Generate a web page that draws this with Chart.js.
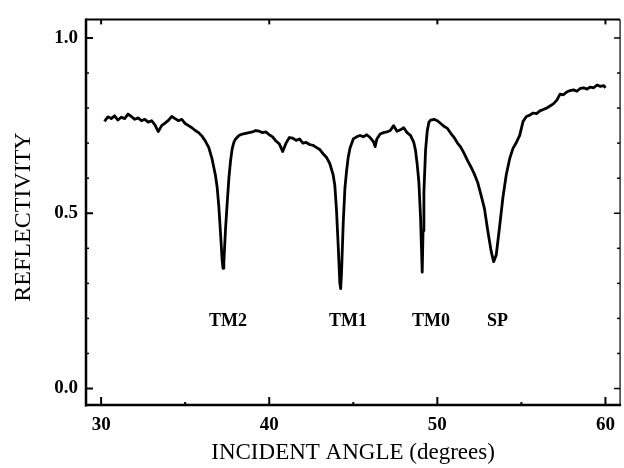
<!DOCTYPE html>
<html>
<head>
<meta charset="utf-8">
<script src="https://cdn.jsdelivr.net/npm/chart.js@4"></script>
<style>
  html, body { margin: 0; padding: 0; background: #fff; }
  canvas { display: block; }
</style>
</head>
<body>
<canvas id="reflectivity" width="624" height="468"></canvas>
<script>
// values
const angles = [
  30.2, 30.4, 30.6, 30.8, 31.0, 31.2, 31.4, 31.6, 31.8, 32.0,
  32.2, 32.4, 32.6, 32.8, 33.0, 33.2, 33.4, 33.6, 33.8, 34.0,
  34.2, 34.4, 34.6, 34.8, 35.0, 35.2, 35.4, 35.6, 35.8, 36.0,
  36.2, 36.4, 36.6, 36.8, 36.9, 37.0, 37.1, 37.2, 37.25, 37.3,
  37.4, 37.5, 37.6, 37.7, 37.8, 37.9, 38.0, 38.2, 38.4, 38.6,
  38.8, 39.0, 39.2, 39.4, 39.6, 39.8, 40.0, 40.2, 40.4, 40.6,
  40.8, 41.0, 41.2, 41.4, 41.6, 41.8, 42.0, 42.2, 42.4, 42.6,
  42.8, 43.0, 43.2, 43.4, 43.6, 43.8, 43.9, 44.0, 44.1, 44.2,
  44.25, 44.3, 44.4, 44.5, 44.6, 44.7, 44.8, 45.0, 45.2, 45.4,
  45.6, 45.8, 46.0, 46.2, 46.3, 46.4, 46.6, 46.8, 47.0, 47.2,
  47.4, 47.6, 47.8, 48.0, 48.2, 48.4, 48.6, 48.7, 48.8, 48.9,
  49.0, 49.05, 49.1, 49.15, 49.2, 49.3, 49.4, 49.5, 49.6, 49.8,
  50.0, 50.2, 50.4, 50.6, 50.8, 51.0, 51.2, 51.4, 51.6, 51.8,
  52.0, 52.2, 52.4, 52.6, 52.8, 53.0, 53.2, 53.35, 53.5, 53.7,
  53.9, 54.1, 54.3, 54.5, 54.7, 54.9, 55.1, 55.3, 55.5, 55.7,
  55.9, 56.1, 56.3, 56.5, 56.7, 56.9, 57.1, 57.3, 57.5, 57.7,
  57.9, 58.1, 58.3, 58.5, 58.7, 58.9, 59.1, 59.3, 59.5, 59.7,
  59.9, 60.0
];
const reflectivity = [
  0.762, 0.775, 0.770, 0.778, 0.766, 0.774, 0.770, 0.783, 0.776, 0.768,
  0.772, 0.764, 0.768, 0.760, 0.764, 0.752, 0.733, 0.750, 0.757, 0.765,
  0.776, 0.770, 0.764, 0.768, 0.756, 0.750, 0.744, 0.736, 0.730, 0.720,
  0.706, 0.688, 0.655, 0.608, 0.575, 0.520, 0.445, 0.365, 0.343, 0.360,
  0.455, 0.530, 0.600, 0.650, 0.685, 0.703, 0.712, 0.722, 0.726, 0.728,
  0.730, 0.732, 0.736, 0.734, 0.730, 0.732, 0.724, 0.718, 0.706, 0.698,
  0.676, 0.700, 0.716, 0.714, 0.708, 0.712, 0.700, 0.702, 0.696, 0.694,
  0.688, 0.682, 0.670, 0.660, 0.642, 0.610, 0.580, 0.510, 0.410, 0.300,
  0.285, 0.330, 0.470, 0.570, 0.620, 0.660, 0.685, 0.712, 0.718, 0.722,
  0.718, 0.724, 0.716, 0.704, 0.690, 0.712, 0.726, 0.730, 0.732, 0.736,
  0.750, 0.734, 0.738, 0.744, 0.730, 0.722, 0.702, 0.680, 0.640, 0.590,
  0.490, 0.410, 0.332, 0.450, 0.560, 0.680, 0.735, 0.760, 0.766, 0.768,
  0.764, 0.756, 0.748, 0.742, 0.728, 0.716, 0.700, 0.688, 0.670, 0.650,
  0.632, 0.612, 0.588, 0.552, 0.514, 0.450, 0.392, 0.362, 0.380, 0.460,
  0.545, 0.610, 0.655, 0.685, 0.702, 0.722, 0.762, 0.776, 0.780, 0.786,
  0.784, 0.792, 0.796, 0.800, 0.806, 0.812, 0.822, 0.840, 0.838, 0.846,
  0.850, 0.852, 0.848, 0.856, 0.858, 0.854, 0.860, 0.858, 0.866, 0.862,
  0.864, 0.858
];

const xTickLabels = [30, 40, 50, 60];
const xMinorTicks = [35, 45, 55];
const yTickLabels = [0.0, 0.5, 1.0];
const yMinorTicks = [0.1, 0.2, 0.3, 0.4, 0.6, 0.7, 0.8, 0.9];

const modeNames = ["TM2", "TM1", "TM0", "SP"];
const modeAngles = [37.54, 44.69, 49.62, 53.58];
const modeLabelLevel = 0.193;

const SERIF = '"Liberation Serif", "DejaVu Serif", serif';

// frame, inward tick marks, mode labels and the rotated y title
const framePlugin = {
	id: "frame",
	afterDraw(chart) {
		const { ctx, chartArea: a, scales: { x, y } } = chart;
		ctx.save();
		ctx.strokeStyle = "#000";
		ctx.lineCap = "butt";

		const line = (x1, y1, x2, y2, w) => {
			ctx.lineWidth = w;
			ctx.beginPath();
			ctx.moveTo(x1, y1);
			ctx.lineTo(x2, y2);
			ctx.stroke();
		};

		line(a.left, a.top - 1, a.left, a.bottom + 1.5, 2.5);
		line(a.left - 1, a.bottom, a.right + 1, a.bottom, 2.5);
		line(a.left, a.top, a.right, a.top, 2);
		line(a.right, a.top, a.right, a.bottom, 1.2);

		xTickLabels.forEach((v) => {
			const px = x.getPixelForValue(v);
			line(px, a.bottom, px, a.bottom - 8, 2);
			line(px, a.top, px, a.top + 5, 2);
		});
		xMinorTicks.forEach((v) => {
			const px = x.getPixelForValue(v);
			line(px, a.bottom, px, a.bottom - 3, 2);
		});
		yTickLabels.forEach((v) => {
			const py = y.getPixelForValue(v);
			line(a.left, py, a.left + 7, py, 2);
			line(a.right, py, a.right - 6, py, 1.5);
		});
		yMinorTicks.forEach((v) => {
			const py = y.getPixelForValue(v);
			line(a.left, py, a.left + 3, py, 1.5);
			line(a.right, py, a.right - 3, py, 1.5);
		});

		ctx.fillStyle = "#000";
		ctx.textAlign = "center";
		ctx.textBaseline = "middle";
		ctx.font = "bold 18px " + SERIF;
		modeNames.forEach((name, i) => {
			ctx.fillText(name, x.getPixelForValue(modeAngles[i]), y.getPixelForValue(modeLabelLevel));
		});

		ctx.font = "24px " + SERIF;
		ctx.translate(23.5, 217);
		ctx.rotate(-Math.PI / 2);
		ctx.fillText("REFLECTIVITY", 0, 0);
		ctx.restore();
	},
};

new Chart(document.getElementById("reflectivity"), {
	type: "line",
	data: {
		datasets: [
			{
				data: angles.map((a, i) => ({ x: a, y: reflectivity[i] })),
				borderColor: "#000",
				borderWidth: 2.8,
				pointRadius: 0,
				tension: 0,
				borderJoinStyle: "round",
			},
		],
	},
	options: {
		responsive: false,
		devicePixelRatio: 1,
		animation: false,
		layout: { padding: { top: 12, right: 2, left: 0, bottom: 0 } },
		plugins: {
			legend: { display: false },
			tooltip: { enabled: false },
		},
		scales: {
			x: {
				type: "linear",
				min: 29.1,
				max: 60.87,
				grid: { display: false, drawTicks: false },
				border: { display: false },
				afterBuildTicks: (s) => {
					s.ticks = xTickLabels.map((v) => ({ value: v }));
				},
				afterFit: (s) => {
					s.height = 63;
				},
				ticks: {
					color: "#000",
					padding: 9,
					maxRotation: 0,
					autoSkip: false,
					font: { family: SERIF, size: 19, weight: "bold" },
					callback: (v) => String(v),
				},
				title: {
					display: true,
					text: "INCIDENT ANGLE (degrees)",
					color: "#000",
					font: { family: SERIF, size: 23 },
					padding: { top: 0, bottom: 1 },
				},
			},
			y: {
				min: -0.047,
				max: 1.053,
				grid: { display: false, drawTicks: false },
				border: { display: false },
				afterBuildTicks: (s) => {
					s.ticks = yTickLabels.map((v) => ({ value: v }));
				},
				afterFit: (s) => {
					s.width = 86;
				},
				ticks: {
					color: "#000",
					padding: 8,
					font: { family: SERIF, size: 19, weight: "bold" },
					callback: (v) => Number(v).toFixed(1),
				},
			},
		},
	},
	plugins: [framePlugin],
});
</script>
</body>
</html>
